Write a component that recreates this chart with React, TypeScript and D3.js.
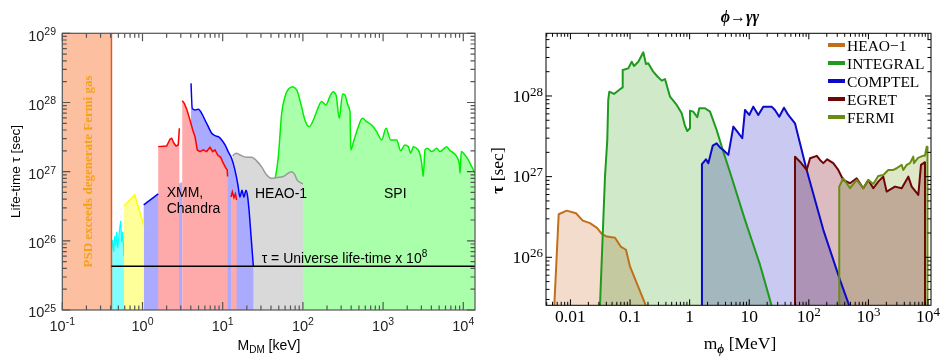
import React from 'react';
import * as d3 from 'd3';

type Pt = [number, number];

// ---------- left panel: M_DM [keV] vs life-time [sec]
const leftXExps = ['-1', '0', '1', '2', '3', '4'];
const leftYExps = ['25', '26', '27', '28', '29'];

const fermiLimit = 0.41; // keV
const universeBound = 4.3e25; // sec

const cyanTop: Pt[] = [
  [0.413, 7.4e25], [0.425, 1.03e26], [0.438, 6.9e25], [0.45, 1.18e26], [0.464, 8.4e25],
  [0.477, 1.35e26], [0.491, 7.9e25], [0.505, 1.1e26], [0.52, 1.53e26], [0.535, 1.94e26],
  [0.551, 9.6e25], [0.567, 1.35e26], [0.583, 7.4e25], [0.587, 6e25],
];
const yellowTop: Pt[] = [[0.587, 3.19e26], [0.8, 4.6e26], [1.035, 1.7e26]];
const blueLow: Pt[] = [[1.035, 3.3e26], [1.57, 4.76e26], [3.13, 7.1e26]];
const pinkA1: Pt[] = [
  [1.57, 2.3e27], [2.0, 2.35e27], [2.2, 2.94e27], [2.31, 3.04e27], [2.47, 2.57e27],
  [2.62, 2.35e27], [2.79, 2.43e27], [2.88, 4.24e27],
];
const pinkA2: Pt[] = [
  [3.13, 1.06e28], [3.32, 9.7e27], [3.56, 7.98e27], [3.91, 5.58e27], [4.23, 4.0e27],
  [4.52, 3.2e27], [4.82, 2.06e27], [5.21, 1.95e27], [5.73, 2.06e27], [6.31, 1.95e27],
  [6.95, 2.25e27], [7.5, 1.95e27], [8.02, 2.06e27], [8.66, 1.74e27], [9.44, 1.61e27],
  [10.2, 1.32e27], [11.0, 1.12e27], [11.4, 1.06e27], [11.5, 8.5e26],
];
const pinkB: Pt[] = [[12.7, 4.3e26], [13.2, 5.1e26], [13.8, 4.2e26], [14.4, 4.76e26], [14.9, 3.9e26]];
const blueHigh: Pt[] = [
  [4.03, 1.89e28], [4.18, 8.2e27], [4.52, 7.8e27], [4.97, 7.98e27], [5.47, 6.98e27],
  [6.01, 5.58e27], [6.61, 4.47e27], [7.29, 3.59e27], [8.02, 3.31e27], [8.81, 3.2e27],
  [9.72, 2.87e27], [10.7, 2.43e27], [11.7, 1.95e27], [12.9, 1.56e27], [14.2, 1.06e27],
  [15.5, 6.4e26], [16.4, 4.3e26], [17.4, 5.4e26], [18.4, 4.3e26], [19.5, 5.4e26],
  [20.4, 4.46e26], [21.3, 2.8e26], [22.5, 1.22e26], [24.1, 4.3e25],
];
const heaoLeft: Pt[] = [
  [13.3, 1.69e27], [14.7, 1.85e27], [16.4, 1.74e27], [19.9, 1.61e27], [23.0, 1.61e27],
  [26.5, 1.43e27], [30.6, 1.17e27], [35.4, 8.96e26], [40.8, 8.0e26], [47.1, 8.2e26],
  [57.0, 8.5e26], [65.8, 9.5e26], [72.4, 1.0e27], [79.6, 8.96e26], [84.4, 7.6e26],
  [96.6, 6.8e26], [100, 6.6e26],
];
const spi: Pt[] = [
  [44.9, 7.6e26], [49.4, 1.65e27], [54.4, 6.98e27], [59.8, 1.21e28], [65.8, 1.55e28],
  [74.6, 1.69e28], [83.7, 1.52e28], [94.0, 9.7e27], [106, 5.58e27], [120, 4.47e27],
  [135, 5.58e27], [151, 7.8e27], [171, 1.03e28], [194, 9.2e27], [218, 1.24e28],
  [239, 1.43e28], [259, 1.28e28], [284, 5.9e27], [313, 1.33e28], [335, 1.28e28],
  [358, 9.7e27], [387, 7.4e27], [395, 2.06e27], [434, 2.87e27], [491, 4.47e27],
  [551, 5.9e27], [625, 5.28e27], [721, 4.73e27], [832, 3.78e27], [961, 2.87e27],
  [1087, 4.24e27], [1245, 2.87e27], [1479, 2.87e27], [1656, 2.01e27], [1875, 2.43e27],
  [2061, 2.3e27], [2208, 1.85e27], [2382, 2.3e27], [2748, 2.06e27], [3030, 1.32e27],
  [3170, 8.5e26], [3330, 2.06e27], [3556, 2.18e27], [4036, 1.95e27], [4656, 2.18e27],
  [5117, 1.95e27], [5636, 2.11e27], [6209, 2.3e27], [6823, 2.01e27], [7500, 1.88e27],
  [8276, 1.65e27], [8913, 1.32e27], [9100, 9.5e26], [9440, 1.95e27], [10500, 1.74e27],
  [11530, 1.48e27], [12730, 1.18e27], [14000, 9.5e26],
];

// ---------- right panel: m_phi [MeV] vs tau [sec]
const rightXPlain = ['0.01', '0.1', '1', '10'];
const rightXExps = ['2', '3', '4'];
const rightYExps = ['26', '27', '28'];

const heao1: Pt[] = [
  [0.00536, 2.5e25], [0.00635, 3.42e26], [0.00865, 3.79e26], [0.0124, 3.52e26], [0.0161, 2.85e26],
  [0.0213, 2.65e26], [0.0282, 2.3e26], [0.0335, 1.95e26], [0.0406, 1.81e26], [0.056, 1.75e26],
  [0.0697, 1.36e26], [0.0855, 1.24e26], [0.0998, 7.7e25], [0.185, 2.5e25],
];
const integral: Pt[] = [
  [0.0313, 2.5e25], [0.038, 1.0e27], [0.0415, 2.85e27], [0.0431, 8.92e27], [0.0449, 1.13e28],
  [0.0538, 1.06e28], [0.0679, 1.21e28], [0.0753, 1.28e28], [0.0753, 2.1e28], [0.0935, 2.2e28],
  [0.1067, 2.66e28], [0.1167, 2.35e28], [0.1377, 2.66e28], [0.167, 3.48e28], [0.185, 2.49e28],
  [0.202, 2.54e28], [0.245, 2.0e28], [0.291, 1.73e28], [0.34, 1.55e28], [0.386, 1.62e28],
  [0.469, 9.8e27], [0.607, 7.74e27], [0.736, 6.11e27], [0.836, 4.25e27], [0.914, 3.68e27],
  [1.014, 3.98e27], [1.014, 6.58e27], [1.15, 6.39e27], [1.345, 5.45e27], [1.45, 7.04e27],
  [1.81, 7.04e27], [2.2, 6.39e27], [2.84, 3.79e27], [3.67, 2.04e27], [4.75, 1.14e27],
  [8.49, 2.91e26], [15.2, 8.05e25], [23.8, 2.5e25],
];
const comptel: Pt[] = [
  [1.61, 2.5e25], [1.61, 1.43e27], [1.88, 1.64e27], [2.06, 1.47e27], [2.44, 2.42e27],
  [2.84, 2.59e27], [3.23, 2.3e27], [3.67, 2.14e27], [4.46, 1.86e27], [5.41, 4.17e27],
  [6.31, 3.61e27], [7.65, 2.99e27], [8.49, 6.71e27], [10.0, 5.82e27], [11.7, 7.37e27],
  [14.2, 5.82e27], [17.2, 7.37e27], [23.8, 7.37e27], [27.0, 6.71e27], [31.9, 5.54e27],
  [38.3, 7.16e27], [45.2, 5.82e27], [58.6, 4.59e27], [92.0, 1.21e27], [175, 2.19e26],
  [333, 5.25e25], [478, 2.5e25],
];
const egret: Pt[] = [
  [58.6, 2.5e25], [58.6, 1.77e27], [71.1, 1.53e27], [92.0, 1.21e27], [105, 1.69e27],
  [136, 1.81e27], [154, 1.61e27], [175, 1.47e27], [204, 1.64e27], [257, 1.47e27],
  [312, 1.21e27], [378, 9.1e26], [491, 8.28e26], [635, 9.55e26], [820, 7.18e26],
  [995, 9.1e26], [1208, 7.18e26], [1463, 8.67e26], [1775, 1.0e27], [2023, 6.52e26],
  [2790, 7.52e26], [3614, 7.18e26], [4667, 1.0e27], [5321, 7.52e26], [6871, 5.93e26],
  [7621, 1.4e27], [8892, 1.51e27], [8892, 2.5e25],
];
const fermi: Pt[] = [
  [324, 2.5e25], [324, 7.52e26], [378, 9.55e26], [491, 7.18e26], [635, 9.1e26],
  [820, 7.18e26], [995, 9.1e26], [1208, 8.12e26], [1463, 1.02e27], [1775, 1.05e27],
  [2153, 1.21e27], [2612, 1.21e27], [2979, 1.27e27], [3614, 1.4e27], [3846, 1.21e27],
  [4385, 1.4e27], [4977, 1.47e27], [5662, 1.77e27], [5808, 1.47e27], [6789, 1.71e27],
  [8337, 1.82e27], [8892, 1.82e27], [9506, 2.35e27], [9795, 2.35e27], [9795, 2.5e25],
];

const rightSeries = [
  { name: 'HEAO\u22121', data: heao1, line: '#c0701c', fill: '#f3dccb' },
  { name: 'INTEGRAL', data: integral, line: '#1f9a1f', fill: '#cfe9c9' },
  { name: 'COMPTEL', data: comptel, line: '#0a0ac8', fill: '#c9c9f1' },
  { name: 'EGRET', data: egret, line: '#6e0606', fill: '#dcbcc1' },
  { name: 'FERMI', data: fermi, line: '#6b8c14', fill: '#dfe7c9' },
];

const sans = 'Liberation Sans, Arial, sans-serif';
const serif = 'Liberation Serif, Times New Roman, serif';

function logTicks(lo: number, hi: number) {
  const major: number[] = [];
  const minor: number[] = [];
  for (let k = Math.floor(Math.log10(lo)); k <= Math.ceil(Math.log10(hi)); k++) {
    for (let m = 1; m < 10; m++) {
      const v = m * Math.pow(10, k);
      if (v < lo * 0.9999 || v > hi * 1.0001) continue;
      (m === 1 ? major : minor).push(v);
    }
  }
  return { major, minor };
}

function TickFrame({ x, y, majorLen, minorLen, stroke, sw }: any) {
  const [x0, x1] = x.range();
  const [y1, y0] = y.range();
  const xt = logTicks(x.domain()[0], x.domain()[1]);
  const yt = logTicks(y.domain()[0], y.domain()[1]);
  let d = '';
  const addX = (v: number, len: number) => {
    const px = x(v);
    d += `M${px},${y1}V${y1 - len}M${px},${y0}V${y0 + len}`;
  };
  const addY = (v: number, len: number) => {
    const py = y(v);
    d += `M${x0},${py}H${x0 + len}M${x1},${py}H${x1 - len}`;
  };
  xt.major.forEach(v => addX(v, majorLen));
  xt.minor.forEach(v => addX(v, minorLen));
  yt.major.forEach(v => addY(v, majorLen));
  yt.minor.forEach(v => addY(v, minorLen));
  return (
    <g>
      <path d={d} stroke={stroke} strokeWidth={sw} fill="none" />
      <rect x={x0} y={y0} width={x1 - x0} height={y1 - y0} fill="none" stroke={stroke} strokeWidth={sw} />
    </g>
  );
}

function LeftPanel() {
  const x = d3.scaleLog().domain([0.1, Math.pow(10, 4.146)]).range([62.3, 475]);
  const y = d3.scaleLog().domain([1e25, 1e29]).range([310, 33.3]);
  const bottom = 310;
  const area = (curve: d3.CurveFactory = d3.curveLinear) =>
    d3.area<Pt>().x(d => x(d[0])).y0(bottom).y1(d => y(d[1])).curve(curve);
  const line = (curve: d3.CurveFactory = d3.curveLinear) =>
    d3.line<Pt>().x(d => x(d[0])).y(d => y(d[1])).curve(curve);
  const smooth = d3.curveMonotoneX;
  const fx = x(fermiLimit);

  return (
    <g fontFamily={sans}>
      <defs>
        <clipPath id="clipL">
          <rect x={62.3} y={33.3} width={475 - 62.3} height={310 - 33.3} />
        </clipPath>
      </defs>
      <g clipPath="url(#clipL)">
        <path d={area(smooth)(spi)!} fill="#aaffaa" />
        <path d={line(smooth)(spi)!} fill="none" stroke="#00ee00" strokeWidth={1.5} />
        <path d={area(smooth)(heaoLeft)!} fill="#d9d9d9" />
        <path d={line(smooth)(heaoLeft)!} fill="none" stroke="#999" strokeWidth={1.5} />
        <path d={area()(blueLow)!} fill="#aaaaff" />
        <path d={area(smooth)(blueHigh)!} fill="#aaaaff" />
        <path d={area()(pinkA1)!} fill="#ffaaaa" />
        <path d={area()(pinkA2)!} fill="#ffaaaa" />
        <path d={area()(pinkB)!} fill="#ffaaaa" />
        <path d={line()(blueLow.slice(0, 2))!} fill="none" stroke="#0000ff" strokeWidth={1.5} />
        <path d={line(smooth)(blueHigh)!} fill="none" stroke="#0000ff" strokeWidth={1.5} />
        <path d={line()(pinkA1)!} fill="none" stroke="#ff0000" strokeWidth={1.5} />
        <path d={line()(pinkA2)!} fill="none" stroke="#ff0000" strokeWidth={1.5} />
        <path d={line()(pinkB)!} fill="none" stroke="#ff0000" strokeWidth={1.5} />
        <path d={area()(cyanTop)!} fill="#80ffff" />
        <path d={line()(cyanTop)!} fill="none" stroke="#00ffff" strokeWidth={1.2} />
        <path d={area()(yellowTop)!} fill="#ffff99" />
        <path d={line()(yellowTop)!} fill="none" stroke="#ffff00" strokeWidth={1.5} />
        <rect x={62.3} y={33.3} width={fx - 62.3} height={bottom - 33.3} fill="#fcbf9f" />
        <line x1={fx} x2={fx} y1={33.3} y2={bottom} stroke="#e8561b" strokeWidth={1.5} />
        <line x1={fx} x2={475} y1={y(universeBound)} y2={y(universeBound)} stroke="#000" strokeWidth={1.5} />
      </g>
      <text transform={`translate(87,171.5) rotate(-90)`} textAnchor="middle" dominantBaseline="central"
        fontFamily={serif} fontWeight="bold" fontSize={13} fill="#f5a21a">
        PSD exceeds degenerate Fermi gas
      </text>
      <text x={166.7} y={197} fontSize={14}>XMM,</text>
      <text x={166.7} y={213} fontSize={14}>Chandra</text>
      <text x={255} y={198} fontSize={14}>HEAO-1</text>
      <text x={384} y={198} fontSize={14}>SPI</text>
      <text x={261.7} y={263} fontSize={14}>
        τ = Universe life-time x 10<tspan dy={-6} fontSize={10}>8</tspan>
      </text>
      <TickFrame x={x} y={y} majorLen={8} minorLen={4.5} stroke="#555" sw={1.2} />
      {leftYExps.map(e => (
        <text key={e} x={56} y={y(Math.pow(10, +e)) + 7.4} textAnchor="end" fontSize={14.5} fill="#222">
          10<tspan dy={-5.5} fontSize={10.5}>{e}</tspan>
        </text>
      ))}
      {leftXExps.map(e => (
        <text key={e} x={x(Math.pow(10, +e))} y={330.7} textAnchor="middle" fontSize={14.5} fill="#222">
          10<tspan dy={-6} fontSize={10.5}>{e}</tspan>
        </text>
      ))}
      <text transform="translate(15,171.5) rotate(-90)" textAnchor="middle" dominantBaseline="central" fontSize={13.5}>
        Life-time τ [sec]
      </text>
      <text x={269} y={350} textAnchor="middle" fontSize={14}>
        M<tspan dy={3} fontSize={10}>DM</tspan><tspan dy={-3}> [keV]</tspan>
      </text>
    </g>
  );
}

function RightPanel() {
  const x = d3.scaleLog().domain([Math.pow(10, -2.41), Math.pow(10, 4.05)]).range([546, 931]);
  const y = d3.scaleLog().domain([Math.pow(10, 25.405), Math.pow(10, 28.777)]).range([305.3, 33.3]);
  const bottom = 305.3;
  const area = d3.area<Pt>().x(d => x(d[0])).y0(bottom).y1(d => Math.min(bottom, y(d[1])));
  const line = d3.line<Pt>().x(d => x(d[0])).y(d => y(d[1]));
  const legendY = [45, 63, 81, 99, 117];

  return (
    <g fontFamily={serif}>
      <defs>
        <clipPath id="clipR">
          <rect x={546} y={33.3} width={931 - 546} height={bottom - 33.3} />
        </clipPath>
      </defs>
      <g clipPath="url(#clipR)">
        <g style={{ isolation: 'isolate' }}>
          {rightSeries.map(s => (
            <path key={s.name} d={area(s.data)!} fill={s.fill} style={{ mixBlendMode: 'multiply' }} />
          ))}
        </g>
        {rightSeries.map(s => (
          <path key={s.name} d={line(s.data)!} fill="none" stroke={s.line} strokeWidth={2} strokeLinejoin="round" />
        ))}
      </g>
      <TickFrame x={x} y={y} majorLen={6} minorLen={3.5} stroke="#000" sw={1} />
      {rightSeries.map((s, i) => (
        <g key={s.name}>
          <line x1={828} x2={845} y1={legendY[i]} y2={legendY[i]} stroke={s.line} strokeWidth={4} />
          <text x={847} y={legendY[i] + 5.5} fontSize={15.5}>{s.name}</text>
        </g>
      ))}
      {rightYExps.map(e => (
        <text key={e} x={543} y={y(Math.pow(10, +e)) + 5.7} textAnchor="end" fontSize={17.5}>
          10<tspan dy={-6} fontSize={13}>{e}</tspan>
        </text>
      ))}
      {rightXPlain.map(t => (
        <text key={t} x={x(+t)} y={322} textAnchor="middle" fontSize={17.5}>{t}</text>
      ))}
      {rightXExps.map(e => (
        <text key={e} x={x(Math.pow(10, +e))} y={322} textAnchor="middle" fontSize={17.5}>
          10<tspan dy={-6} fontSize={13}>{e}</tspan>
        </text>
      ))}
      <text x={740} y={22} textAnchor="middle" fontSize={16} fontWeight="bold" fontStyle="italic">ϕ→γγ</text>
      <text transform="translate(497,170.5) rotate(-90)" textAnchor="middle" dominantBaseline="central" fontSize={17.5}>
        <tspan fontWeight="bold">τ</tspan> [sec]
      </text>
      <text x={740} y={349} textAnchor="middle" fontSize={17.5}>
        m<tspan dy={4} fontSize={12} fontStyle="italic" fontWeight="bold">ϕ</tspan><tspan dy={-4}>  [MeV]</tspan>
      </text>
    </g>
  );
}

export default function App() {
  return (
    <svg width={940} height={359} style={{ position: 'absolute', left: 0, top: 0, background: '#fff' }}>
      <rect width={940} height={359} fill="#fff" />
      <LeftPanel />
      <RightPanel />
    </svg>
  );
}
